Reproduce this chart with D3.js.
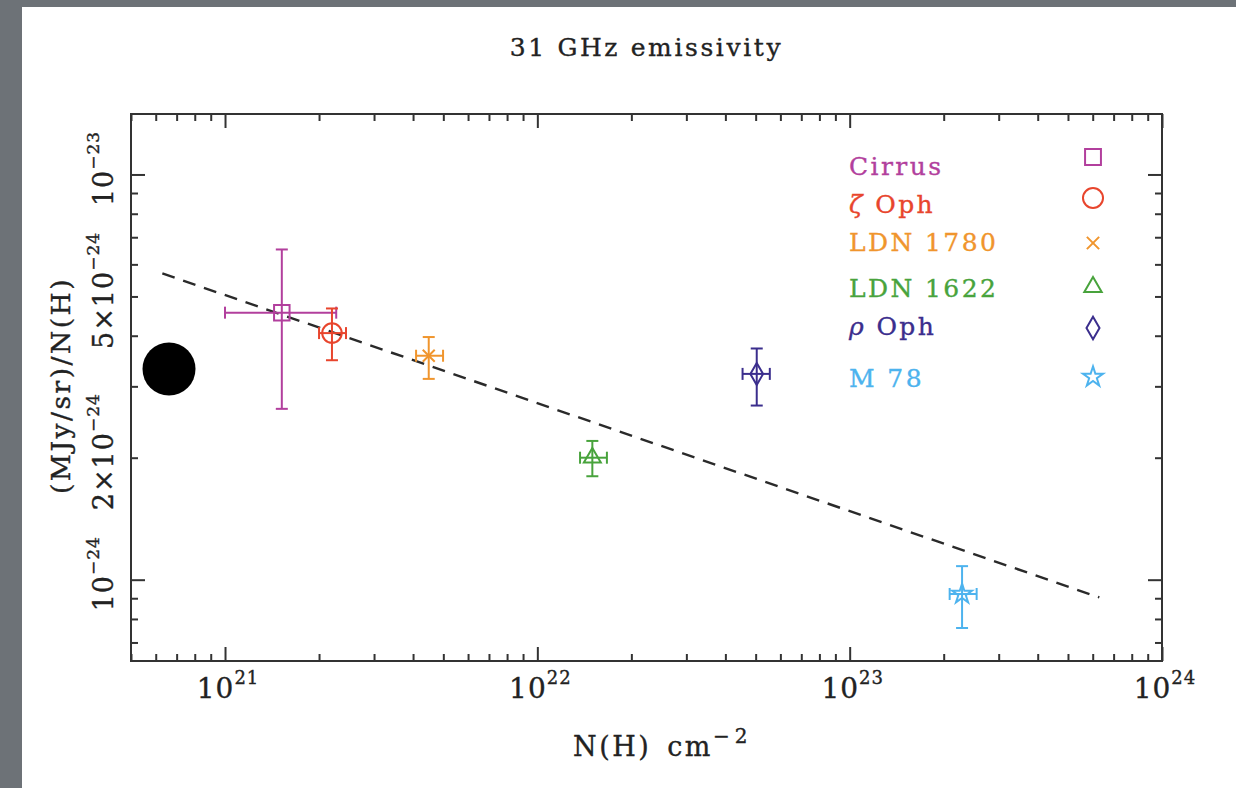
<!DOCTYPE html>
<html>
<head>
<meta charset="utf-8">
<script src="https://cdn.jsdelivr.net/npm/d3@7.9.0/dist/d3.min.js"></script>
<style>
  html, body { margin: 0; padding: 0; background: #6d7277; }
  svg { display: block; }
  text { font-family: 'DejaVu Serif', serif; stroke-width: 0.35; }
</style>
</head>
<body>
<svg id="chart" width="1236" height="788"></svg>
<script>
// data
const sources = ['Cirrus', 'ζ Oph', 'LDN 1780', 'LDN 1622', 'ρ Oph', 'M 78'];
const nh = [1.52e21, 2.20e21, 4.49e21, 1.50e22, 5.04e22, 2.29e23];
const nhLo = [1.0e21, 2.0e21, 4.09e21, 1.37e22, 4.54e22, 2.09e23];
const nhHi = [2.27e21, 2.44e21, 4.99e21, 1.67e22, 5.55e22, 2.55e23];
const emis = [4.56e-24, 4.06e-24, 3.57e-24, 2.0e-24, 3.22e-24, 9.22e-25];
const emisLo = [2.64e-24, 3.48e-24, 3.13e-24, 1.80e-24, 2.69e-24, 7.6e-25];
const emisHi = [6.53e-24, 4.67e-24, 3.97e-24, 2.20e-24, 3.72e-24, 1.08e-24];
const colors = ['#b23f9d', '#e8452d', '#f0952d', '#48a33c', '#3b2e8d', '#4db3ee'];
const symbols = [d3.symbolSquare, d3.symbolCircle, d3.symbolTimes, d3.symbolTriangle, d3.symbolDiamond, d3.symbolStar];
const symbolSizes = [240, 300, 95, 125, 140, 120];

// dashed fit line end points
const fitNH = [6.3e20, 6.3e23];
const fitEmis = [5.7e-24, 9.04e-25];

// axis ticks
const xDomain = [5e20, 1e24];
const yDomain = [6.3e-25, 1.41e-23];
const xTickVals = [1e21, 1e22, 1e23, 1e24];
const xTickLabels = ['10^21', '10^22', '10^23', '10^24'];
const yTickVals = [1e-24, 2e-24, 5e-24, 1e-23];
const yTickLabels = ['10^−24', '2×10^−24', '5×10^−24', '10^−23'];

const width = 1236;
const height = 788;
const frame = { left: 131, right: 1162, top: 114, bottom: 661 };

const svg = d3.select('#chart');

// slide panel
svg.append('rect').attr('x', 22).attr('y', 7).attr('width', width - 22).attr('height', height - 7).attr('fill', '#fff');

const x = d3.scaleLog().domain(xDomain).range([frame.left, frame.right]);
const y = d3.scaleLog().domain(yDomain).range([frame.bottom, frame.top]);

const isDecade = (v) => Math.abs(Math.log10(v) - Math.round(Math.log10(v))) < 1e-6;
const xMinor = x.ticks().filter((v) => !isDecade(v));
const yMinor = y.ticks().filter((v) => !isDecade(v));
const xMajor = x.ticks().filter(isDecade);
const yMajor = y.ticks().filter(isDecade);

// ticks on all four sides, pointing in
function drawTicks(axisFn, scale, vals, size, transform) {
  const g = svg.append('g')
    .attr('transform', transform)
    .call(axisFn(scale).tickValues(vals).tickSize(size).tickFormat(''));
  g.select('.domain').remove();
  g.selectAll('.tick line').attr('stroke', '#333').attr('stroke-width', 2);
}
drawTicks(d3.axisBottom, x, xMajor, -14, `translate(0,${frame.bottom})`);
drawTicks(d3.axisBottom, x, xMinor, -7, `translate(0,${frame.bottom})`);
drawTicks(d3.axisTop, x, xMajor, -14, `translate(0,${frame.top})`);
drawTicks(d3.axisTop, x, xMinor, -7, `translate(0,${frame.top})`);
drawTicks(d3.axisLeft, y, yMajor, -14, `translate(${frame.left},0)`);
drawTicks(d3.axisLeft, y, yMinor, -7, `translate(${frame.left},0)`);
drawTicks(d3.axisRight, y, yMajor, -14, `translate(${frame.right},0)`);
drawTicks(d3.axisRight, y, yMinor, -7, `translate(${frame.right},0)`);

svg.append('rect')
  .attr('x', frame.left).attr('y', frame.top)
  .attr('width', frame.right - frame.left).attr('height', frame.bottom - frame.top)
  .attr('fill', 'none').attr('stroke', '#333').attr('stroke-width', 2);

// text with a superscript part, "base^sup"
function supText(sel, label, supSize, raise) {
  const [base, sup] = label.split('^');
  sel.append('tspan').text(base);
  if (sup) sel.append('tspan').attr('dy', -raise).attr('font-size', supSize).text(sup);
}

xTickVals.forEach((v, i) => {
  const t = svg.append('text')
    .attr('x', x(v) + 3).attr('y', 698)
    .attr('text-anchor', 'middle').attr('font-size', 28).attr('letter-spacing', 1)
    .attr('fill', '#222').attr('stroke', '#222');
  supText(t, xTickLabels[i], 18, 14);
});

yTickVals.forEach((v, i) => {
  const t = svg.append('text')
    .attr('transform', `translate(113,${y(v) - 6}) rotate(-90)`)
    .attr('text-anchor', 'middle').attr('font-size', 27).attr('letter-spacing', 1)
    .attr('fill', '#222').attr('stroke', '#222');
  supText(t, yTickLabels[i], 17, 14);
});

// titles
svg.append('text')
  .attr('x', (frame.left + frame.right) / 2).attr('y', 56)
  .attr('text-anchor', 'middle').attr('font-size', 25).attr('letter-spacing', 2.6)
  .attr('fill', '#222').attr('stroke', '#222').text('31 GHz emissivity');

const xt = svg.append('text')
  .attr('x', 573).attr('y', 756)
  .attr('font-size', 27).attr('letter-spacing', 2.5)
  .attr('fill', '#222').attr('stroke', '#222');
xt.append('tspan').text('N(H)');
xt.append('tspan').attr('dx', 16).text('cm');
xt.append('tspan').attr('dy', -13).attr('font-size', 20).attr('letter-spacing', 5).text('−2');

svg.append('text')
  .attr('transform', `translate(70,${(frame.top + frame.bottom) / 2 - 2}) rotate(-90)`)
  .attr('text-anchor', 'middle').attr('font-size', 26.5).attr('letter-spacing', 2.5)
  .attr('fill', '#222').attr('stroke', '#222').text('(MJy/sr)/N(H)');

// dashed fit
svg.append('path')
  .attr('d', d3.line().x((d) => x(d[0])).y((d) => y(d[1]))(d3.zip(fitNH, fitEmis)))
  .attr('fill', 'none').attr('stroke', '#2a2a2a').attr('stroke-width', 2.4)
  .attr('stroke-dasharray', '13 9');

// error bars and markers
const cap = 6;
const pts = svg.append('g');
sources.forEach((name, i) => {
  const g = pts.append('g').attr('stroke', colors[i]).attr('stroke-width', 2).attr('fill', 'none');
  const cx = x(nh[i]);
  const cy = y(emis[i]);
  const x0 = x(nhLo[i]);
  const x1 = x(nhHi[i]);
  const y0 = y(emisLo[i]);
  const y1 = y(emisHi[i]);
  g.append('line').attr('x1', x0).attr('x2', x1).attr('y1', cy).attr('y2', cy);
  g.append('line').attr('x1', x0).attr('x2', x0).attr('y1', cy - cap).attr('y2', cy + cap);
  g.append('line').attr('x1', x1).attr('x2', x1).attr('y1', cy - cap).attr('y2', cy + cap);
  g.append('line').attr('x1', cx).attr('x2', cx).attr('y1', y0).attr('y2', y1);
  g.append('line').attr('x1', cx - cap).attr('x2', cx + cap).attr('y1', y0).attr('y2', y0);
  g.append('line').attr('x1', cx - cap).attr('x2', cx + cap).attr('y1', y1).attr('y2', y1);
  g.append('path')
    .attr('transform', `translate(${cx},${cy})`)
    .attr('d', d3.symbol(symbols[i], symbolSizes[i])());
});

// legend
const legendTextY = [175, 213, 251, 297, 335, 387];
const legendSymY = [157, 198, 243, 287, 328, 377];
sources.forEach((name, i) => {
  const t = svg.append('text')
    .attr('x', 849).attr('y', legendTextY[i])
    .attr('font-size', 25).attr('letter-spacing', 2.4)
    .attr('fill', colors[i]).attr('stroke', colors[i]);
  if (name.startsWith('ζ') || name.startsWith('ρ')) {
    t.append('tspan').attr('font-style', 'italic').text(name[0]);
    t.append('tspan').text(name.slice(1));
  } else {
    t.text(name);
  }
  svg.append('path')
    .attr('transform', `translate(1093,${legendSymY[i]})`)
    .attr('d', d3.symbol(symbols[i], symbolSizes[i] * 1.05)())
    .attr('fill', 'none').attr('stroke', colors[i]).attr('stroke-width', 2);
});

// slide bullet
svg.append('circle').attr('cx', 169).attr('cy', 369).attr('r', 26.5).attr('fill', '#000');
</script>
</body>
</html>
